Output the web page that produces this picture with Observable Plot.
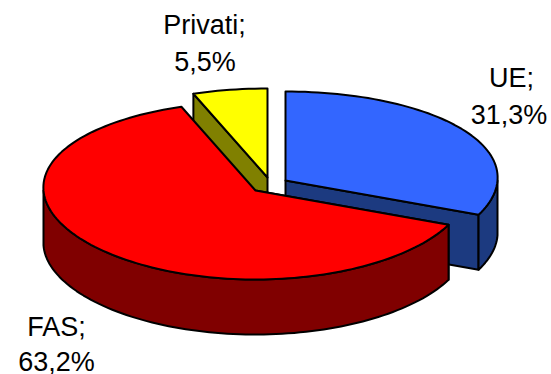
<!DOCTYPE html>
<html>
<head>
<meta charset="utf-8">
<script src="https://cdn.jsdelivr.net/npm/d3@7"></script>
<script src="https://cdn.jsdelivr.net/npm/@observablehq/plot@0.6"></script>
<style>html,body{margin:0;padding:0;background:#fff}svg{display:block}</style>
</head>
<body>
<div id="chart"></div>
<script>
const categories = ["UE", "FAS", "Privati"];
const shares = [31.3, 63.2, 5.5];
const shareLabels = ["31,3%", "63,2%", "5,5%"];
const topColors = ["#3366FF", "#FF0000", "#FFFF00"];
const wallColors = ["#1C3A80", "#800000", "#808000"];

// layout of the exploded 3-D pie
const apexes = [[285, 180], [255, 190], [267, 177]];
const rx = 212, ry = 89, depth = 55, skew = 0.034;
const labelAt = [[[511, 77.5], [508.5, 114.5]], [[56, 326.5], [56, 361.5]], [[204, 25], [204.5, 62]]];

const total = d3.sum(shares);
let acc = 0;
const slices = categories.map((name, i) => {
  const a0 = acc / total * 2 * Math.PI;
  acc += shares[i];
  return {name, i, a0, a1: acc / total * 2 * Math.PI, apex: apexes[i]};
});
const pt = (s, a, dz = 0) => ({
  x: s.apex[0] + rx * Math.sin(a) * (1 + skew * Math.cos(a)),
  y: s.apex[1] - ry * Math.cos(a) + dz
});
const arc = (s, a0, a1, dz = 0) => {
  const n = Math.max(2, Math.ceil(Math.abs(a1 - a0) / 0.03));
  return d3.range(n + 1).map(k => pt(s, a0 + (a1 - a0) * k / n, dz));
};
const apexPt = (s, dz = 0) => ({x: s.apex[0], y: s.apex[1] + dz});
const poly = (points, fill) => Plot.line(points, {
  x: "x", y: "y", fill, stroke: "#000", strokeWidth: 2,
  curve: "linear-closed", strokeLinejoin: "round"
});
const E = Math.PI / 2, W = 3 * Math.PI / 2;

const [ue, fas, pri] = slices;
const marks = [
  // UE
  poly([apexPt(ue), pt(ue, ue.a1), pt(ue, ue.a1, depth), apexPt(ue, depth)], wallColors[0]),
  poly([...arc(ue, E, ue.a1), ...arc(ue, ue.a1, E, depth)], wallColors[0]),
  poly([apexPt(ue), ...arc(ue, ue.a0, ue.a1)], topColors[0]),
  // Privati
  poly([apexPt(pri), pt(pri, pri.a0), pt(pri, pri.a0, depth), apexPt(pri, depth)], wallColors[2]),
  poly([apexPt(pri), ...arc(pri, pri.a0, pri.a1)], topColors[2]),
  // FAS
  poly([apexPt(fas), pt(fas, fas.a0), pt(fas, fas.a0, depth), apexPt(fas, depth)], wallColors[1]),
  poly([...arc(fas, fas.a0, W), ...arc(fas, W, fas.a0, depth)], wallColors[1]),
  poly([apexPt(fas), ...arc(fas, fas.a0, fas.a1)], topColors[1])
];

const labels = categories.flatMap((c, i) => [
  {text: c + ";", x: labelAt[i][0][0], y: labelAt[i][0][1]},
  {text: shareLabels[i], x: labelAt[i][1][0], y: labelAt[i][1][1]}
]);
marks.push(Plot.text(labels, {
  x: "x", y: "y", text: "text", fill: "#000",
  fontFamily: "Liberation Sans", fontSize: 27, textAnchor: "middle", lineAnchor: "middle"
}));

document.getElementById("chart").append(Plot.plot({
  width: 551, height: 374,
  margin: 0,
  x: {domain: [0, 551], range: [0, 551], axis: null},
  y: {domain: [0, 374], range: [0, 374], axis: null},
  style: {background: "#fff"},
  marks
}));
</script>
</body>
</html>
